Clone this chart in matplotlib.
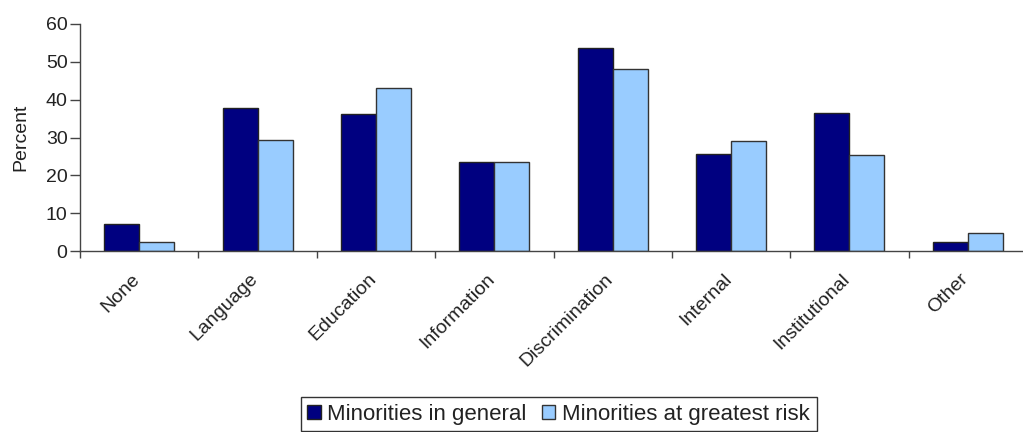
import numpy as np
import matplotlib
matplotlib.use("Agg")
import matplotlib.pyplot as plt
import matplotlib.transforms as mtransforms

categories = ["None", "Language", "Education", "Information", "Discrimination",
              "Internal", "Institutional", "Other"]
general = [7.2, 37.8, 36.1, 23.5, 53.7, 25.7, 36.6, 2.4]
greatest_risk = [2.4, 29.3, 43.1, 23.5, 48.0, 29.2, 25.3, 4.8]
yticks = [0, 10, 20, 30, 40, 50, 60]

plt.rcParams["font.family"] = ["Liberation Sans", "DejaVu Sans"]
plt.rcParams["text.color"] = "#222222"

fig = plt.figure(figsize=(10.23, 4.32), dpi=100)
ax = fig.add_axes([80 / 1023, 1 - 251 / 432, 947 / 1023, 227 / 432])

x = np.arange(len(categories))
w = 0.296
ax.bar(x + 0.5 - w / 2, general, w, color="#000080", edgecolor="#222222",
       linewidth=1.0, label="Minorities in general")
ax.bar(x + 0.5 + w / 2, greatest_risk, w, color="#99CCFF", edgecolor="#333333",
       linewidth=1.0, label="Minorities at greatest risk")

ax.set_xlim(0, len(categories))
ax.set_ylim(0, 60)
ax.set_yticks(yticks)
ax.tick_params(axis="y", labelsize=14, length=7, width=1, color="#444444",
               pad=2, labelcolor="#222222")
ax.set_xticks(x)
ax.set_xticklabels([])
ax.set_xticks(x + 0.5, minor=True)
ax.set_xticklabels(categories, minor=True, rotation=45, ha="right",
                   rotation_mode="anchor", fontsize=14, color="#222222")
ax.tick_params(axis="x", which="major", length=5, width=1, color="#444444")
ax.tick_params(axis="x", which="minor", length=0, pad=14)
# labels sit a little left of the group centre in the original
shift = mtransforms.ScaledTranslation(-8 / 100, 0, fig.dpi_scale_trans)
for lbl in ax.get_xticklabels(minor=True):
    lbl.set_transform(lbl.get_transform() + shift)

ax.set_ylabel("Percent", fontsize=14, labelpad=12, color="#222222")
for s in ["top", "right"]:
    ax.spines[s].set_visible(False)
for s in ["left", "bottom"]:
    ax.spines[s].set_color("#444444")
    ax.spines[s].set_linewidth(1)

leg = fig.legend(loc="upper center", bbox_to_anchor=(0.546, 0.081), ncol=2,
                 fontsize=16, frameon=True, fancybox=False, handlelength=0.6,
                 handleheight=0.6, handletextpad=0.3, columnspacing=0.7,
                 borderpad=0.3, borderaxespad=0)
leg.get_frame().set_edgecolor("black")
leg.get_frame().set_linewidth(1)

fig.savefig("out.png", dpi=100)
